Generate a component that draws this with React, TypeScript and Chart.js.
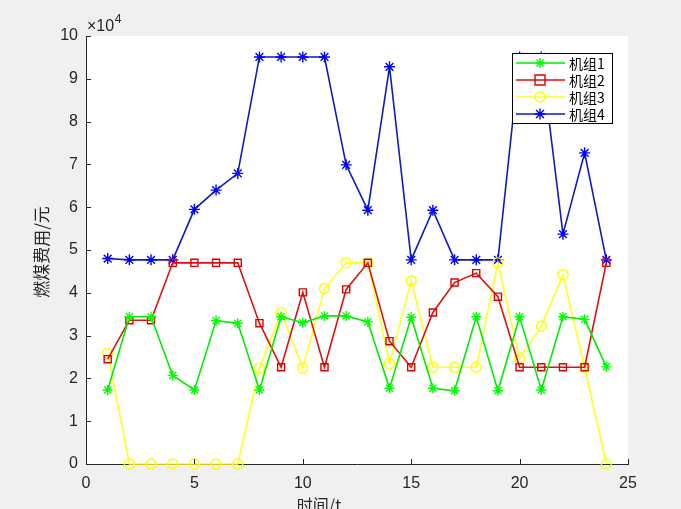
import React, { useEffect, useRef } from 'react';
import { Chart, registerables } from 'chart.js';

Chart.register(...registerables);

const hours = [1, 2, 3, 4, 5, 6, 7, 8, 9, 10, 11, 12, 13, 14, 15, 16, 17, 18, 19, 20, 21, 22, 23, 24];
const unit1 = [17300, 34400, 34400, 20700, 17300, 33500, 32900, 17300, 34400, 33000, 34600, 34600, 33200, 17700, 34300, 17700, 17100, 34400, 17100, 34400, 17300, 34400, 33800, 22700];
const unit2 = [24500, 33600, 33600, 47000, 47000, 47000, 47000, 32900, 22600, 40100, 22600, 40800, 47000, 28700, 22600, 35400, 42400, 44600, 39100, 22600, 22600, 22600, 22600, 47000];
const unit3 = [25900, 0, 0, 0, 0, 0, 0, 22400, 35400, 22400, 41000, 47000, 47000, 23500, 42800, 22600, 22600, 22600, 47000, 24700, 32200, 44200, 22600, 0];
const unit4 = [48000, 47700, 47700, 47700, 59500, 64000, 67900, 95100, 95100, 95100, 95100, 69900, 59300, 92800, 47700, 59300, 47700, 47700, 47700, 95100, 95100, 53700, 72700, 47700];
const seriesNames = ['机组1', '机组2', '机组3', '机组4'];
const xTicks = [0, 5, 10, 15, 20, 25];
const yTicks = [0, 10000, 20000, 30000, 40000, 50000, 60000, 70000, 80000, 90000, 100000];
const xTitle = '时间/t';
const yTitle = '燃煤费用/元';

const lineColors = ['#00ee00', '#dd1111', '#ffff22', '#0a1ec0'];
const markerColors = ['#00ff00', '#e00000', '#ffff00', '#0000ff'];
const markerStyles = ['star', 'rect', 'circle', 'star'];
const markerRadii = [5, 5, 5, 5.5];

const AXIS = '#262626';
const CJK = '"Noto Sans CJK SC", "Noto Sans", sans-serif';
const NUM = '"Liberation Sans", Arial, sans-serif';

function drawMarker(ctx: CanvasRenderingContext2D, style: string, x: number, y: number, r: number, color: string) {
  ctx.save();
  ctx.strokeStyle = color;
  ctx.lineWidth = 1.4;
  ctx.beginPath();
  if (style === 'star') {
    ctx.moveTo(x - r, y); ctx.lineTo(x + r, y);
    ctx.moveTo(x, y - r); ctx.lineTo(x, y + r);
    const d = r * 0.7071;
    ctx.moveTo(x - d, y - d); ctx.lineTo(x + d, y + d);
    ctx.moveTo(x - d, y + d); ctx.lineTo(x + d, y - d);
  } else if (style === 'rect') {
    ctx.rect(x - r, y - r, 2 * r, 2 * r);
  } else {
    ctx.arc(x, y, r, 0, Math.PI * 2);
  }
  ctx.stroke();
  ctx.restore();
}

const decorPlugin = {
  id: 'decor',
  beforeDraw(chart: any) {
    const { ctx, chartArea } = chart;
    ctx.save();
    ctx.fillStyle = '#f0f0f0';
    ctx.fillRect(0, 0, chart.width, chart.height);
    ctx.fillStyle = '#ffffff';
    ctx.fillRect(chartArea.left, chartArea.top, chartArea.right - chartArea.left, chartArea.bottom - chartArea.top);
    ctx.restore();
  },
  afterDraw(chart: any) {
    const { ctx, chartArea, scales } = chart;
    const xs = scales.x;
    const ys = scales.y;
    ctx.save();
    // inward tick marks
    ctx.strokeStyle = AXIS;
    ctx.lineWidth = 1;
    ctx.beginPath();
    yTicks.forEach((v) => {
      const py = Math.round(ys.getPixelForValue(v)) + 0.5;
      ctx.moveTo(chartArea.left, py);
      ctx.lineTo(chartArea.left + 5, py);
    });
    xTicks.forEach((v) => {
      const px = Math.round(xs.getPixelForValue(v)) + 0.5;
      ctx.moveTo(px, chartArea.bottom);
      ctx.lineTo(px, chartArea.bottom - 5);
    });
    ctx.stroke();

    // exponent label
    ctx.fillStyle = AXIS;
    ctx.textBaseline = 'middle';
    ctx.textAlign = 'left';
    ctx.font = `16px ${NUM}`;
    ctx.fillText('×10', chartArea.left + 1, chartArea.top - 9);
    const w = ctx.measureText('×10').width;
    ctx.font = `12px ${NUM}`;
    ctx.fillText('4', chartArea.left + 1 + w + 0.5, chartArea.top - 16);

    // axis titles
    ctx.font = `16px ${CJK}`;
    ctx.textAlign = 'center';
    ctx.fillText(xTitle, 319, chartArea.bottom + 41);
    ctx.save();
    ctx.translate(42, (chartArea.top + chartArea.bottom) / 2 + 2);
    ctx.rotate(-Math.PI / 2);
    ctx.font = `17px ${CJK}`;
    ctx.fillText(yTitle, 0, 0);
    ctx.restore();

    // legend
    const lx = 512, ly = 53, lw = 100, lh = 70;
    ctx.fillStyle = '#ffffff';
    ctx.fillRect(lx, ly, lw, lh);
    ctx.strokeStyle = '#000000';
    ctx.lineWidth = 1;
    ctx.strokeRect(lx + 0.5, ly + 0.5, lw, lh);
    ctx.font = `14px ${CJK}`;
    ctx.textAlign = 'left';
    ctx.textBaseline = 'middle';
    seriesNames.forEach((name, i) => {
      const ry = ly + 10 + i * 17;
      ctx.strokeStyle = lineColors[i];
      ctx.lineWidth = 1.5;
      ctx.beginPath();
      ctx.moveTo(lx + 4, ry);
      ctx.lineTo(lx + 53, ry);
      ctx.stroke();
      drawMarker(ctx, markerStyles[i], lx + 28, ry, markerRadii[i], markerColors[i]);
      ctx.fillStyle = '#000000';
      ctx.fillText(name, lx + 57, ry + 1);
    });
    ctx.restore();
  },
};

export default function App() {
  const ref = useRef<HTMLCanvasElement | null>(null);
  useEffect(() => {
    if (!ref.current) return;
    const allSeries = [unit1, unit2, unit3, unit4];
    const chart = new Chart(ref.current, {
      type: 'line',
      data: {
        datasets: allSeries.map((vals, i) => ({
          label: seriesNames[i],
          data: hours.map((h, j) => ({ x: h, y: vals[j] })),
          borderColor: lineColors[i],
          borderWidth: 1.6,
          pointStyle: markerStyles[i] as any,
          pointRadius: markerRadii[i],
          pointBorderColor: markerColors[i],
          pointBackgroundColor: 'transparent',
          pointBorderWidth: 1.4,
          fill: false,
          tension: 0,
          clip: false as any,
        })),
      },
      options: {
        responsive: false,
        maintainAspectRatio: false,
        animation: false,
        devicePixelRatio: 1,
        layout: { padding: { top: 36, right: 53, left: 0, bottom: 0 } },
        plugins: { legend: { display: false }, tooltip: { enabled: false } },
        scales: {
          x: {
            type: 'linear',
            min: 0,
            max: 25,
            afterFit: (s: any) => { s.height = 45; },
            afterBuildTicks: (s: any) => { s.ticks = xTicks.map((v) => ({ value: v })); },
            grid: { display: false, drawTicks: false },
            border: { display: true, color: AXIS, width: 1 },
            ticks: { padding: 10, color: AXIS, font: { family: NUM, size: 16 }, maxRotation: 0, autoSkip: false },
          },
          y: {
            type: 'linear',
            min: 0,
            max: 100000,
            afterFit: (s: any) => { s.width = 86; },
            afterBuildTicks: (s: any) => { s.ticks = yTicks.map((v) => ({ value: v })); },
            grid: { display: false, drawTicks: false },
            border: { display: true, color: AXIS, width: 1 },
            ticks: {
              padding: 8,
              color: AXIS,
              font: { family: NUM, size: 16 },
              autoSkip: false,
              callback: (v: any) => String(Number(v) / 10000),
            },
          },
        },
      },
      plugins: [decorPlugin],
    });
    return () => chart.destroy();
  }, []);
  return (
    <div style={{ position: 'absolute', left: 0, top: 0, width: 681, height: 509, background: '#f0f0f0', overflow: 'hidden' }}>
      <canvas ref={ref} width={681} height={509} style={{ display: 'block', width: 681, height: 509 }} />
    </div>
  );
}
